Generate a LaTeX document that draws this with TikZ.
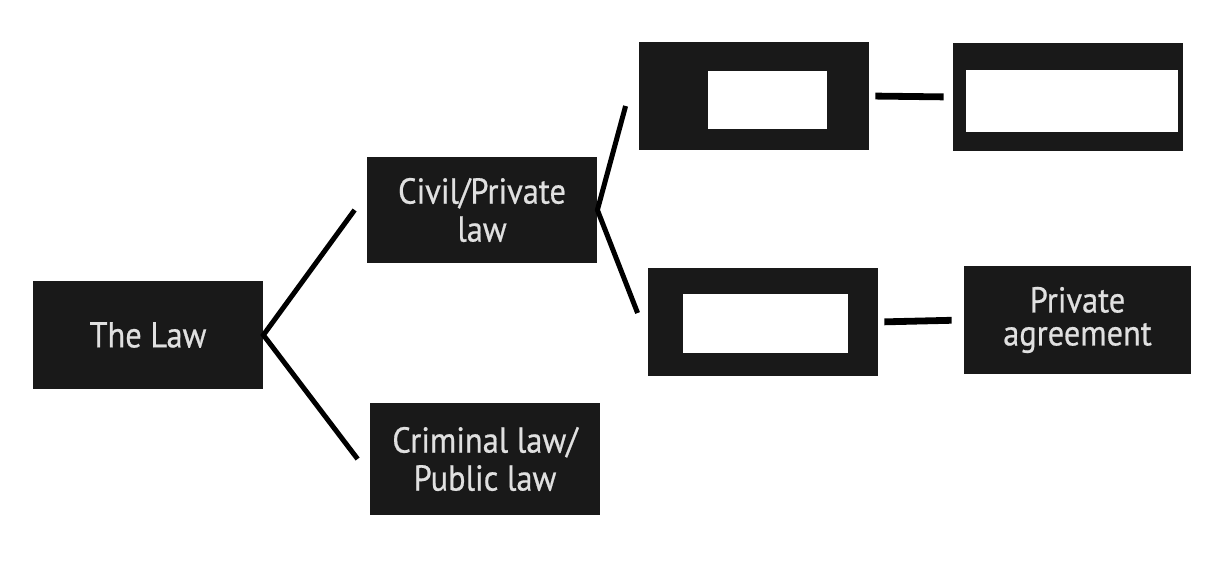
\documentclass[tikz,border=0pt]{standalone}
\usepackage{fontspec}
\setmainfont{PT Sans}[FakeStretch=0.9, FakeBold=0.6]
\definecolor{boxfill}{HTML}{191919}
\definecolor{boxtext}{HTML}{E0E0E0}
\begin{document}
\begin{tikzpicture}[x=0.5pt, y=-0.5pt,
		lawbox/.style={fill=boxfill, text=boxtext,
			minimum width=115pt, minimum height=54pt,
			align=center, inner sep=0pt,
			font=\fontsize{18}{19}\selectfont},
		blank/.style={fill=white, inner sep=0pt},
		link/.style={line width=2.5pt, line join=miter},
		bar/.style={line width=3.4pt}]
		
		\useasboundingbox (0,0) rectangle (1215,562);
		
		% Left column
		\node [lawbox] (law) at (148,335) {The Law};
		
		\node [lawbox,
		minimum height=53pt] (cvl) at (482,210) {Civil/Private\\law};
		
		\node [lawbox,
		minimum height=56pt] (crim) at (485,459) {Criminal law/\\Public law};
		
		% Right column
		\node [lawbox] (tl) at (754,96) {};
		\node [blank, minimum width=59.5pt, minimum height=29pt] (tlb) at (767.5,100) {};
		
		\node [lawbox] (tr) at (1068,97) {};
		\node [blank, minimum width=106pt, minimum height=31pt] (trb) at (1072,101) {};
		
		\node [lawbox] (bl) at (763,322) {};
		\node [blank, minimum width=82.5pt, minimum height=29.5pt] (blb) at (765.5,323.5) {};
		
		\node [lawbox,
		minimum width=113.5pt,
		font=\fontsize{18}{16.5}\selectfont] (agr) at (1077.5,320) {Private\\agreement};
		
		% Connectors
		\draw [link] ([xshift=-6pt]cvl.west) -- (law.east) -- ([xshift=-6pt]crim.west);
		
		\draw [link] ([xshift=-6.5pt, yshift=-5pt]tl.west) -- (cvl.east) -- ([xshift=-5pt, yshift=4.5pt]bl.west);
		
		\draw [bar, shorten <=3pt, shorten >=4.5pt] (tl.east) -- (tr.west);
		
		\draw [bar, shorten <=3pt, shorten >=6pt] (bl.east) -- (agr.west);
		
	\end{tikzpicture}
\end{document}
